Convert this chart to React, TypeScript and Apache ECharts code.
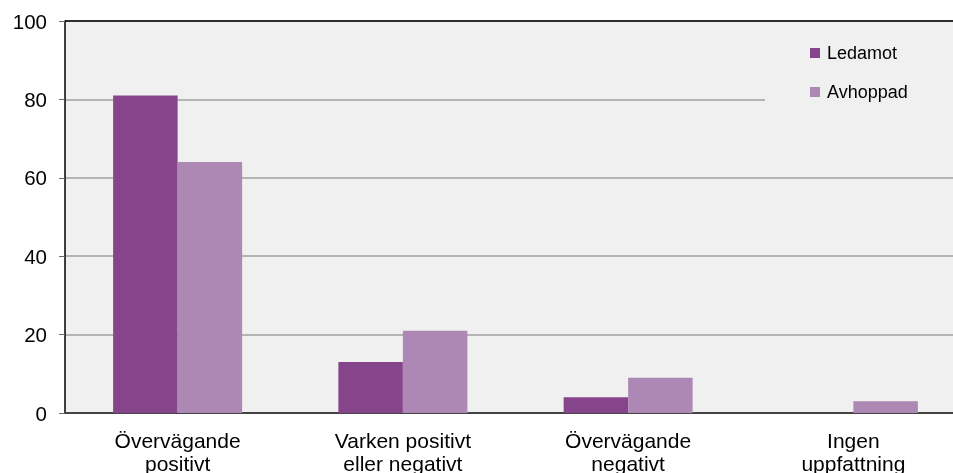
import React, { useEffect, useRef } from "react";
import * as echarts from "echarts";

const categories = [
  "Övervägande\npositivt",
  "Varken positivt\neller negativt",
  "Övervägande\nnegativt",
  "Ingen\nuppfattning",
];
const ledamot = [81, 13, 4, 0];
const avhoppad = [64, 21, 9, 3];
const seriesNames = ["Ledamot", "Avhoppad"];

export default function App() {
  const ref = useRef<HTMLDivElement>(null);
  useEffect(() => {
    if (!ref.current) return;
    const chart = echarts.init(ref.current, undefined, { renderer: "svg" });
    const font = "Liberation Sans, Arial, sans-serif";
    chart.setOption({
      animation: false,
      textStyle: { fontFamily: font },
      grid: {
        left: 65,
        right: -13,
        top: 21,
        bottom: 60,
        show: true,
        backgroundColor: "#f0f0f0",
        borderWidth: 0,
        outerBoundsMode: "none",
        containLabel: false,
      },
      legend: {
        orient: "vertical",
        left: 810,
        top: 44,
        padding: 0,
        itemWidth: 10,
        itemHeight: 10,
        itemGap: 21,
        icon: "rect",
        textStyle: { fontSize: 18, color: "#000", fontFamily: font, padding: [0, 0, 0, 2] },
        data: seriesNames,
      },
      graphic: [
        {
          type: "rect",
          z: 3,
          shape: { x: 765, y: 22, width: 200, height: 110 },
          style: { fill: "#f0f0f0" },
        },
        {
          type: "line",
          z: 5,
          shape: { x1: 65, y1: 21, x2: 953, y2: 21 },
          style: { stroke: "#000", lineWidth: 1.5 },
        },
      ],
      xAxis: {
        type: "category",
        data: categories,
        axisLine: { show: true, lineStyle: { color: "#444", width: 2 } },
        axisTick: { show: false },
        axisLabel: {
          fontSize: 21,
          color: "#000",
          lineHeight: 23,
          margin: 16,
          interval: 0,
          fontFamily: font,
        },
      },
      yAxis: {
        type: "value",
        min: 0,
        max: 100,
        interval: 20,
        axisLine: { show: true, lineStyle: { color: "#000", width: 1.5 } },
        axisTick: { show: true, length: 6, lineStyle: { color: "#666" } },
        axisLabel: { fontSize: 20.5, color: "#000", margin: 18, fontFamily: font },
        splitLine: { show: true, lineStyle: { color: "#a0a0a0", width: 1.5 } },
      },
      series: [
        {
          name: seriesNames[0],
          type: "bar",
          data: ledamot,
          itemStyle: { color: "#86458a" },
          barWidth: 64.5,
          barGap: "0%",
        },
        {
          name: seriesNames[1],
          type: "bar",
          data: avhoppad,
          itemStyle: { color: "#ae88b5" },
          barWidth: 64.5,
          barGap: "0%",
        },
      ],
    });
    return () => chart.dispose();
  }, []);
  return (
    <div
      ref={ref}
      style={{ position: "fixed", left: 0, top: 0, width: 953, height: 473 }}
    />
  );
}
